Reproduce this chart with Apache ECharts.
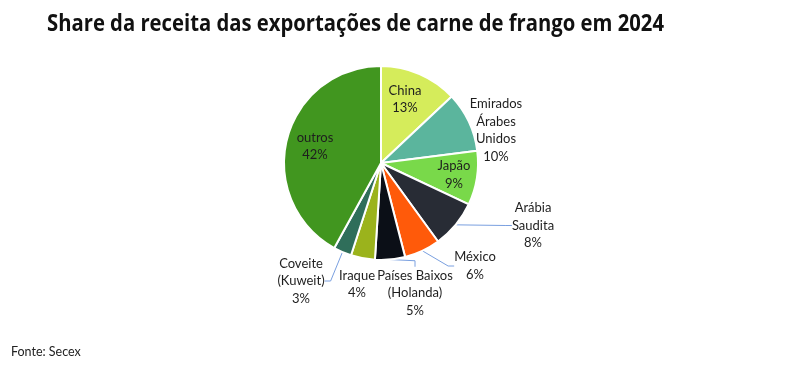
<!DOCTYPE html>
<html><head><meta charset="utf-8">
<script src="https://cdn.jsdelivr.net/npm/echarts@6/dist/echarts.min.js"></script>
<style>html,body{margin:0;padding:0;background:#fff}#c{width:796px;height:367px}</style>
</head><body><div id="c"></div>
<script>
const titleText = 'Share da receita das exportações de carne de frango em 2024';
const sourceText = 'Fonte: Secex';
const categories = ['China', 'Emirados\nÁrabes\nUnidos', 'Japão', 'Arábia\nSaudita', 'México', 'Países Baixos\n(Holanda)', 'Iraque', 'Coveite\n(Kuweit)', 'outros'];
const shares = [13, 10, 9, 8, 6, 5, 4, 3, 42];

const sliceColors = ['#d5ec5b', '#5bb59d', '#79d94a', '#282c35', '#ff5a0a', '#0b0f17', '#9bb31c', '#2f6e5a', '#41961f'];
const labelSpots = [[405, 99.5], [496, 130.5], [454, 175], [533, 225.5], [475, 266], [415, 293], [357, 284.5], [301, 281], [315, 146.5]];
const labelPos = ['inside', 'outside', 'inside', 'outside', 'outside', 'outside', 'outside', 'outside', 'inside'];
const withLine = [false, false, false, true, true, true, false, true, false];

const titleFont = 'bold 24px "Open Sans"';
const titleWidth = 617;
const mc = document.createElement('canvas').getContext('2d');
mc.font = titleFont;
const titleScale = titleWidth / mc.measureText(titleText).width;

const chart = echarts.init(document.getElementById('c'), null, {renderer: 'canvas'});
chart.setOption({
  backgroundColor: '#ffffff',
  animation: false,
  graphic: [
    {type: 'text', x: 47, y: 24, scaleX: titleScale, style: {text: titleText, font: titleFont, fill: '#111111', verticalAlign: 'middle'}},
    {type: 'text', x: 11, y: 352, style: {text: sourceText, font: '12.5px Lato', fill: '#222222', verticalAlign: 'middle'}}
  ],
  series: [{
    type: 'pie',
    center: [381, 163],
    radius: 97,
    startAngle: 90,
    clockwise: true,
    avoidLabelOverlap: false,
    itemStyle: {borderColor: '#ffffff', borderWidth: 2},
    label: {
      show: true,
      formatter: '{b}\n{c}%',
      fontFamily: 'Lato',
      fontSize: 13,
      lineHeight: 17.5,
      color: '#1e1e1e'
    },
    labelLine: {lineStyle: {color: '#7aa0e0', width: 1}, length: 8, length2: 6},
    labelLayout: function (p) {
      const s = labelSpots[p.dataIndex];
      return {x: s[0], y: s[1], align: 'center', verticalAlign: 'middle'};
    },
    emphasis: {disabled: true},
    data: categories.map(function (c, i) {
      return {
        name: c,
        value: shares[i],
        itemStyle: {color: sliceColors[i]},
        label: {position: labelPos[i]},
        labelLine: {show: withLine[i]}
      };
    })
  }]
});
</script></body></html>
